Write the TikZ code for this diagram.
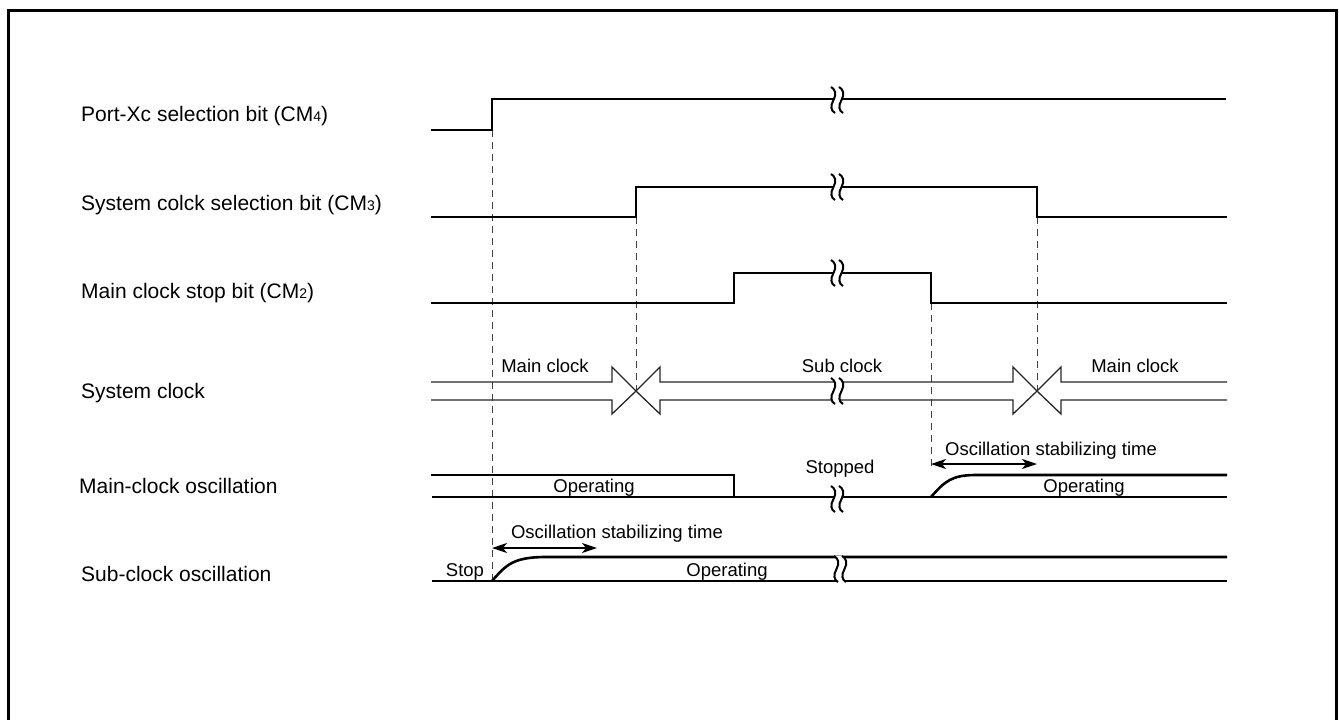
\documentclass[tikz,border=0pt]{standalone}
\usepackage{fontspec}
\setmainfont{Liberation Sans}
\usetikzlibrary{arrows.meta}
\newcommand\lblfont{\fontsize{21}{25}\selectfont}
\newcommand\inlfont{\fontsize{18.5}{22}\selectfont}
\newcommand\subdig[1]{{\fontsize{14}{14}\selectfont #1}}
\begin{document}
\begin{tikzpicture}[x=1pt,y=-1pt,
  sig/.style={line width=2.6pt, line join=miter},
  bus/.style={line width=1.3pt, draw=black!85, line join=miter},
  dsh/.style={line width=1pt, draw=black!75, dash pattern=on 7pt off 5pt},
  arr/.style={line width=1.4pt, {Stealth[length=15pt,width=10pt,inset=4pt]}-{Stealth[length=15pt,width=10pt,inset=4pt]}},
  lbl/.style={inner sep=0pt, anchor=base west, font=\lblfont},
  inl/.style={inner sep=0pt, anchor=base, font=\inlfont},
  brk/.pic={
    \fill[white] (-6,-13) .. controls (-2,-11) and (0,-6) .. (-3.5,0) .. controls (-7,6) and (-6,11) .. (-2,13) -- (6,13) .. controls (2,11) and (1,6) .. (4.5,0) .. controls (8,-6) and (6,-11) .. (2,-13) -- cycle;
    \draw[line width=2pt] (-6,-13) .. controls (-2,-11) and (0,-6) .. (-3.5,0) .. controls (-7,6) and (-6,11) .. (-2,13);
    \draw[line width=2pt] (2,-13) .. controls (6,-11) and (8,-6) .. (4.5,0) .. controls (1,6) and (2,11) .. (6,13);
  }]
\useasboundingbox (0,0) rectangle (1339,720);
\draw[line width=3pt] (8,760) -- (8,10) -- (1336,10) -- (1336,760);

% left labels
\node[lbl] (l4) at (81,121) {Port-Xc selection bit (CM\subdig{4})};
\node[lbl] (l3) at (81,210.5) {System colck selection bit (CM\subdig{3})};
\node[lbl] (l2) at (81,298.5) {Main clock stop bit (CM\subdig{2})};
\node[lbl] (lsc) at (81,398) {System clock};
\node[lbl] (lmo) at (79,493) {Main-clock oscillation};
\node[lbl] (lso) at (81,581) {Sub-clock oscillation};

% key coordinates
\coordinate (r4) at (492,130);
\coordinate (r3) at (636,217);
\coordinate (f3) at (1037,217);
\coordinate (f2) at (931,303);
\coordinate (x1) at (636,391);
\coordinate (x2) at (1037,391);
\coordinate (so) at (492,581);
\coordinate (mo) at (931,471);

% dashed guides
\draw[dsh] (r4) -- (so);
\draw[dsh] (r3) -- (x1);
\draw[dsh] (f3) -- (x2);
\draw[dsh] (f2) -- (mo);

% CM4, CM3, CM2
\draw[sig] (431,130) -- (r4) -- (492,99) -- (1226,99);
\draw[sig] (431,217) -- (r3) -- (636,187) -- (1037,187) -- (f3) -- (1227,217);
\draw[sig] (431,303) -- (734,303) -- (734,273) -- (931,273) -- (f2) -- (1227,303);

% system clock bus
\draw[bus] (431,382) -- (612,382) -- (612,367) -- (x1) -- (612,414) -- (612,400) -- (431,400);
\draw[bus] (660,382) -- (660,367) -- (x1) -- (660,414) -- (660,400) -- (1013,400) -- (1013,414) -- (x2) -- (1013,367) -- (1013,382) -- cycle;
\draw[bus] (1227,382) -- (1061,382) -- (1061,367) -- (x2) -- (1061,414) -- (1061,400) -- (1227,400);
\node[inl] (mc1) at (545,372.5) {Main clock};
\node[inl] (sc) at (842,372.5) {Sub clock};
\node[inl] (mc2) at (1135,372.5) {Main clock};

% main-clock oscillation
\draw[sig] (431,475) -- (734,475) -- (734,497);
\draw[sig] (432,497) -- (1227,497);
\draw[sig] (931,497) .. controls (945,481) and (952,475) .. (976,475) -- (1227,475);
\node[inl] (op1) at (594,492) {Operating};
\node[inl] (stp) at (840,473) {Stopped};
\node[inl] (op2) at (1084,492) {Operating};
\draw[arr] (mo|-0,464) -- (f3|-0,464);
\node[inl] (os2) at (1051,455) {Oscillation stabilizing time};

% sub-clock oscillation
\draw[sig] (432,581) -- (1227,581);
\draw[sig] (so) .. controls (506,565) and (513,557) .. (546,557) -- (1227,557);
\node[inl] (st) at (465,576) {Stop};
\node[inl] (op3) at (727,576) {Operating};
\draw[arr] (r4|-0,548) -- (597,548);
\node[inl] (os1) at (617,538.5) {Oscillation stabilizing time};

% break marks
\pic at (837,100) {brk};
\pic at (837,187) {brk};
\pic at (837,273) {brk};
\pic at (837,391) {brk};
\pic at (837,499) {brk};
\pic at (840,569) {brk};
\end{tikzpicture}
\end{document}
